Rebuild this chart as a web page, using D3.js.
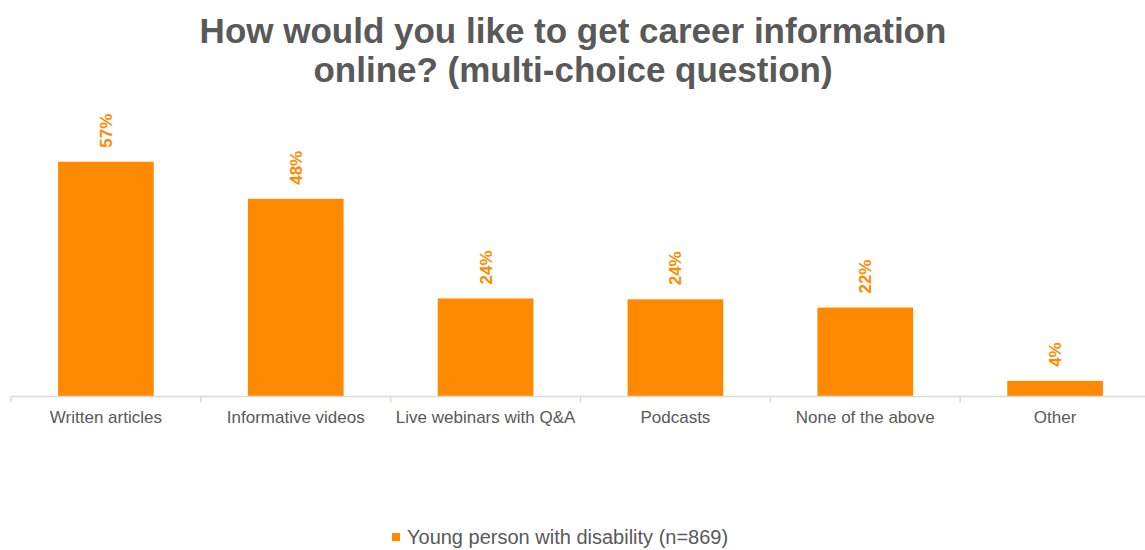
<!DOCTYPE html>
<html>
<head>
<meta charset="utf-8">
<script src="https://cdn.jsdelivr.net/npm/d3@7/dist/d3.min.js"></script>
<style>
  html, body { margin: 0; padding: 0; background: #fff; }
  svg { display: block; font-family: "Liberation Sans", Arial, sans-serif; }
</style>
</head>
<body>
<svg id="chart" width="1145" height="550"></svg>
<script>
const categories = ["Written articles", "Informative videos", "Live webinars with Q&A", "Podcasts", "None of the above", "Other"];
const values = [57.0, 48.0, 23.8, 23.6, 21.6, 3.8];
const titleLines = ["How would you like to get career information", "online? (multi-choice question)"];
const seriesName = "Young person with disability (n=869)";

const orange = "#FF8A00";
const grey = "#595959";

const svg = d3.select("#chart");

const baseY = 396.5;
const x = d3.scaleBand().domain(categories).range([11, 1150]).paddingInner(0.496).paddingOuter(0.248);
const y = d3.scaleLinear().domain([0, 60]).range([baseY, baseY - 247.1]);

// Title
svg.append("g").selectAll("text").data(titleLines).join("text")
  .attr("x", 573).attr("y", (d, i) => 43 + i * 39)
  .attr("text-anchor", "middle")
  .attr("font-size", 35).attr("font-weight", "bold")
  .attr("fill", grey)
  .text(d => d);

// Bars
svg.append("g").selectAll("rect").data(categories).join("rect")
  .attr("x", d => x(d))
  .attr("width", x.bandwidth())
  .attr("y", (d, i) => y(values[i]))
  .attr("height", (d, i) => baseY - y(values[i]))
  .attr("fill", orange);

// Axis
const axisG = svg.append("g").attr("transform", `translate(0,${baseY})`);
axisG.call(d3.axisBottom(x).tickSize(0).tickPadding(14))
  .call(g => g.select(".domain").remove())
  .call(g => g.selectAll("text").attr("font-size", 17).attr("fill", grey)
      .attr("font-family", "'Liberation Sans', Arial, sans-serif"));
axisG.append("line").attr("x1", 11).attr("x2", 1145).attr("y1", 0).attr("y2", 0)
  .attr("stroke", "#d9d9d9").attr("stroke-width", 1.5);
const step = x.step();
const boundaries = categories.map(d => x(d) - step * x.paddingInner() / 2);
axisG.selectAll("line.bt").data(boundaries).join("line").attr("class", "bt")
  .attr("x1", d => d).attr("x2", d => d).attr("y1", 0).attr("y2", 6)
  .attr("stroke", "#d9d9d9").attr("stroke-width", 1.5);

// Data labels
svg.append("g").selectAll("text").data(categories).join("text")
  .attr("transform", (d, i) => `translate(${x(d) + x.bandwidth() / 2},${y(values[i]) - 14}) rotate(-90)`)
  .attr("dy", "0.35em")
  .attr("text-anchor", "start")
  .attr("font-size", 17).attr("font-weight", "bold")
  .attr("fill", orange)
  .text((d, i) => Math.round(values[i]) + "%");

// Legend
const lg = svg.append("g");
lg.append("rect").attr("x", 392).attr("y", 533).attr("width", 8).attr("height", 8).attr("fill", orange);
lg.append("text").attr("x", 407).attr("y", 544)
  .attr("font-size", 20).attr("fill", grey).text(seriesName);
</script>
</body>
</html>
